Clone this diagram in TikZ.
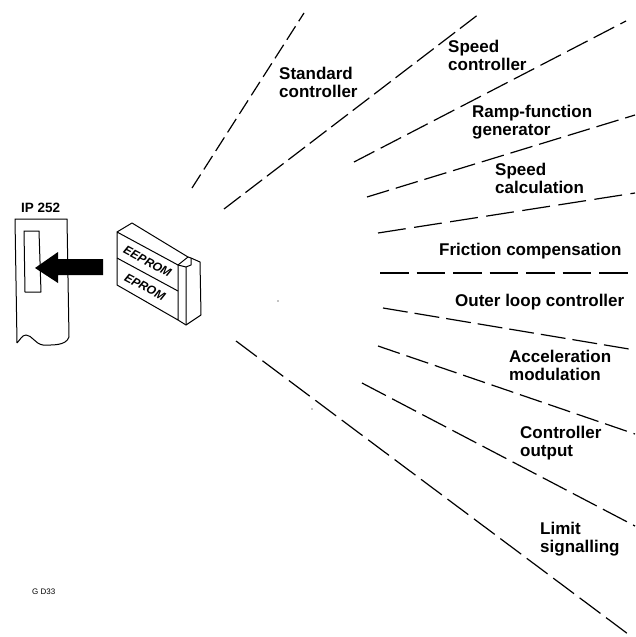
\documentclass[tikz,border=0pt]{standalone}
\usepackage{fontspec}
\setmainfont{Liberation Sans}
\begin{document}
\begin{tikzpicture}[x=1pt,y=-1pt,
  lbl/.style={font=\fontsize{17}{18}\selectfont\bfseries,align=left,anchor=west,inner sep=0pt},
  ray/.style={line width=1.2pt,black},
  outline/.style={line width=1pt,black,line join=round}]
\useasboundingbox (0,0) rectangle (635,637);
% rays
\draw[ray,dash pattern=on 16pt off 6pt] (192,188) -- (304,13);
\draw[ray,dash pattern=on 21pt off 6pt] (224,209) -- (479,14);
\draw[ray,dash pattern=on 23pt off 7pt] (354,162) -- (626,21);
\draw[ray,dash pattern=on 23pt off 7pt] (367,197) -- (635,115);
\draw[ray,dash pattern=on 28pt off 8.5pt] (378,233) -- (635,193);
\draw[ray,line width=1.5pt,dash pattern=on 28.5pt off 8pt] (380,273) -- (635,273);
\draw[ray,dash pattern=on 25pt off 7pt] (383,308) -- (635,350);
\draw[ray,dash pattern=on 23pt off 7pt] (378,346) -- (635,434);
\draw[ray,dash pattern=on 27pt off 7pt] (362,383) -- (635,526);
\draw[ray,dash pattern=on 26pt off 7pt] (236,341) -- (632,637);
% labels
\node[lbl] (standard) at (279,82) {Standard\\controller};
\node[lbl] (speedc) at (448,55) {Speed\\controller};
\node[lbl] (ramp) at (472,122.5) {Ramp-function\\generator};
\node[lbl] (speedcalc) at (495,178) {Speed\\calculation};
\node[lbl] (friction) at (439,251) {Friction compensation};
\node[lbl] (outer) at (455,302) {Outer loop controller};
\node[lbl] (accel) at (509,365) {Acceleration\\modulation};
\node[lbl] (output) at (520,443) {Controller\\output};
\node[lbl] (limit) at (540,539) {Limit\\signalling};
\node[font=\fontsize{8}{9}\selectfont,anchor=west,inner sep=0pt] (gd) at (32,592) {G D33};
\node[font=\fontsize{13.5}{14}\selectfont\bfseries,anchor=west,inner sep=0pt] (ip) at (21,208) {IP 252};
% plug-in board
\draw[outline] (17,343) -- (15,219) -- (67,219) -- (69,337)
  .. controls (66,346) and (52,345) .. (43,345)
  .. controls (35,344) and (32,335) .. (26,335)
  .. controls (22,335) and (20,340) .. (17,343);
\draw[outline] (24,231) -- (39,231) -- (41,292) -- (25,292) -- cycle;
% arrow
\fill[black] (35,268) -- (58,252) -- (58,259) -- (103,259) -- (103,275) -- (58,275) -- (58,283) -- cycle;
% module
\draw[outline] (117,232) -- (117,285) -- (178,320) -- (178,265) -- cycle;
\draw[outline] (117,258) -- (178,291);
\draw[outline] (117,232) -- (132,223) -- (188,257) -- (178,265);
\draw[outline] (186,325) -- (186,267) -- (178,265);
\draw[outline] (178,320) -- (186,325) -- (201,315) -- (200,262) -- (191,258) -- (188,257);
\draw[outline] (186,267) -- (191,265) -- (191,258);
\node[font=\fontsize{12}{14}\selectfont\bfseries\itshape,rotate=-28,inner sep=0pt] (eeprom) at (147.5,261.5) {EEPROM};
\node[font=\fontsize{12}{14}\selectfont\bfseries\itshape,rotate=-28,inner sep=0pt] (eprom) at (145,287) {EPROM};
% scan specks
\fill (278,301) circle (0.7);
\fill (312,409) circle (0.7);
\end{tikzpicture}
\end{document}
